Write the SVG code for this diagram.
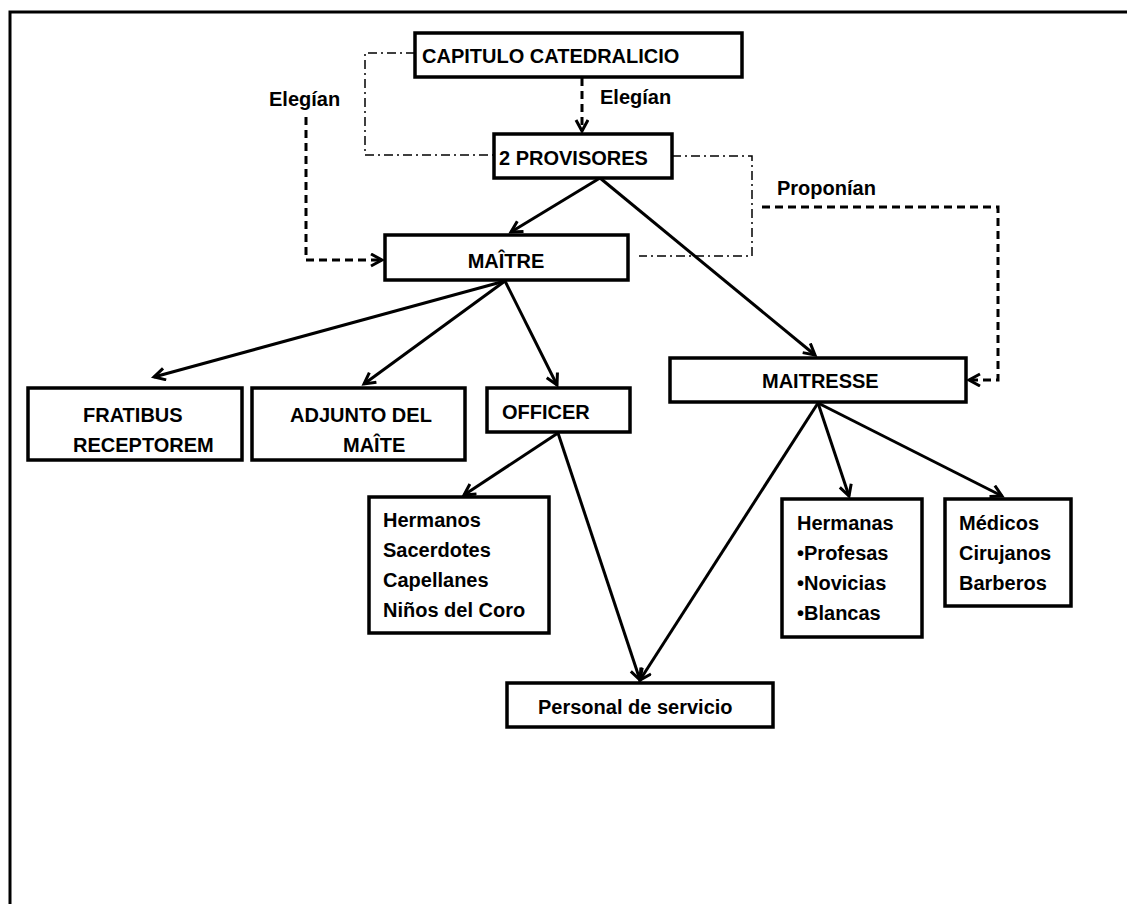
<svg xmlns="http://www.w3.org/2000/svg" width="1127" height="904" viewBox="0 0 1127 904">
  <style>
    .box { fill: #fff; stroke: #000; stroke-width: 3.5; }
    .lbl { font-family: "Liberation Sans", Arial, sans-serif; font-weight: bold; font-size: 20px; fill: #000; }
    .solid { fill: none; stroke: #000; stroke-width: 3; }
    .dash { fill: none; stroke: #000; stroke-width: 3; stroke-dasharray: 8 5; }
    .dashdot { fill: none; stroke: #000; stroke-width: 1.5; stroke-dasharray: 9 4 2 4; }
  </style>
  <defs>
    <marker id="arrow" markerUnits="userSpaceOnUse" markerWidth="16" markerHeight="16" refX="12" refY="7" orient="auto">
      <path d="M1,1 L12,7 L1,13" fill="none" stroke="#000" stroke-width="3"/>
    </marker>
  </defs>

  <rect width="1127" height="904" fill="#fff"/>

  <!-- page frame (open at right and bottom) -->
  <path d="M10,904 L10,12 L1127,12" fill="none" stroke="#000" stroke-width="3"/>

  <!-- connectors -->
  <g id="connectors">
    <!-- dash-dot links between chapter, provisors and maître -->
    <path class="dashdot" d="M415,53 L365,53 L365,155 L494,155"/>
    <path class="dashdot" d="M672,156 L752,156 L752,256 L639,256"/>
    <!-- elections and proposals -->
    <path class="dash" d="M582,78 L582,131" marker-end="url(#arrow)"/>
    <path class="dash" d="M306,117 L306,260 L382,260" marker-end="url(#arrow)"/>
    <path class="dash" d="M762,207 L998,207 L998,380 L969,380" marker-end="url(#arrow)"/>
    <!-- hierarchy -->
    <path class="solid" d="M600,178 L511,232" marker-end="url(#arrow)"/>
    <path class="solid" d="M600,178 L815,355" marker-end="url(#arrow)"/>
    <path class="solid" d="M505,281 L154,377" marker-end="url(#arrow)"/>
    <path class="solid" d="M505,281 L364,384" marker-end="url(#arrow)"/>
    <path class="solid" d="M505,281 L557,385" marker-end="url(#arrow)"/>
    <path class="solid" d="M558,433 L464,495" marker-end="url(#arrow)"/>
    <path class="solid" d="M558,433 L640,680" marker-end="url(#arrow)"/>
    <path class="solid" d="M818,403 L640,680" marker-end="url(#arrow)"/>
    <path class="solid" d="M818,403 L849,496" marker-end="url(#arrow)"/>
    <path class="solid" d="M818,403 L1002,496" marker-end="url(#arrow)"/>
  </g>

  <!-- connector labels -->
  <g id="edge-labels">
    <text class="lbl" x="600" y="104">Elegían</text>
    <text class="lbl" x="269" y="106">Elegían</text>
    <text class="lbl" x="777" y="195">Proponían</text>
  </g>

  <g id="capitulo">
    <rect class="box" x="415" y="33" width="327" height="44"/>
    <text class="lbl" x="422" y="63">CAPITULO CATEDRALICIO</text>
  </g>

  <g id="provisores">
    <rect class="box" x="494" y="134" width="178" height="44"/>
    <text class="lbl" x="499" y="165">2 PROVISORES</text>
  </g>

  <g id="maitre">
    <rect class="box" x="385" y="235" width="243" height="45"/>
    <text class="lbl" x="506" y="268" text-anchor="middle">MAÎTRE</text>
  </g>

  <g id="fratibus">
    <rect class="box" x="28" y="388" width="214" height="72"/>
    <text class="lbl" x="83" y="422">FRATIBUS</text>
    <text class="lbl" x="73" y="452">RECEPTOREM</text>
  </g>

  <g id="adjunto">
    <rect class="box" x="252" y="388" width="213" height="72"/>
    <text class="lbl" x="290" y="422">ADJUNTO DEL</text>
    <text class="lbl" x="343" y="452">MAÎTE</text>
  </g>

  <g id="officer">
    <rect class="box" x="487" y="388" width="143" height="44"/>
    <text class="lbl" x="502" y="419">OFFICER</text>
  </g>

  <g id="maitresse">
    <rect class="box" x="670" y="358" width="296" height="44"/>
    <text class="lbl" x="762" y="388">MAITRESSE</text>
  </g>

  <g id="hermanos">
    <rect class="box" x="369" y="497" width="180" height="136"/>
    <text class="lbl" x="383" y="527">Hermanos</text>
    <text class="lbl" x="383" y="557">Sacerdotes</text>
    <text class="lbl" x="383" y="587">Capellanes</text>
    <text class="lbl" x="383" y="617">Niños del Coro</text>
  </g>

  <g id="hermanas">
    <rect class="box" x="782" y="499" width="140" height="138"/>
    <text class="lbl" x="797" y="530">Hermanas</text>
    <text class="lbl" x="797" y="560">•Profesas</text>
    <text class="lbl" x="797" y="590">•Novicias</text>
    <text class="lbl" x="797" y="620">•Blancas</text>
  </g>

  <g id="medicos">
    <rect class="box" x="945" y="499" width="126" height="107"/>
    <text class="lbl" x="959" y="530">Médicos</text>
    <text class="lbl" x="959" y="560">Cirujanos</text>
    <text class="lbl" x="959" y="590">Barberos</text>
  </g>

  <g id="personal">
    <rect class="box" x="507" y="683" width="266" height="44"/>
    <text class="lbl" x="538" y="714">Personal de servicio</text>
  </g>
</svg>
